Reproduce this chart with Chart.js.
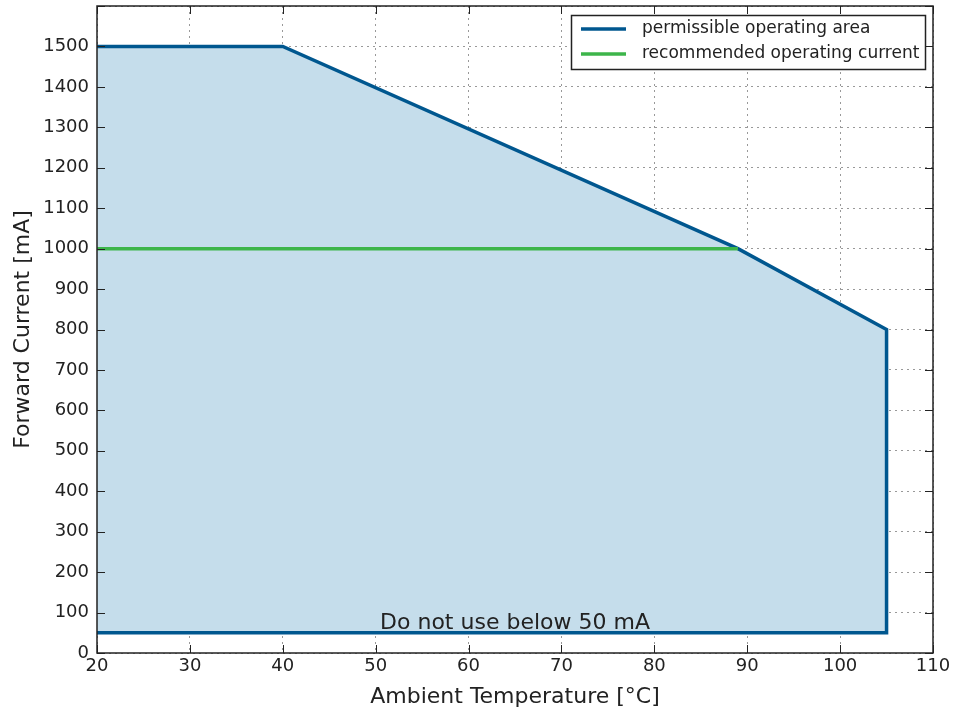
<!DOCTYPE html>
<html>
<head>
<meta charset="utf-8">
<script src="https://cdn.jsdelivr.net/npm/chart.js@4/dist/chart.umd.min.js"></script>
<style>
  html, body { margin: 0; padding: 0; background: #fff; }
  #wrap { width: 954px; height: 713px; }
</style>
</head>
<body>
<div id="wrap"><canvas id="chart" width="954" height="713"></canvas></div>
<script>
// data
const areaTemp    = [20, 40, 89, 105, 105, 20];
const areaCurrent = [1500, 1500, 1000, 800, 50, 50];
const recTemp     = [20, 89];
const recCurrent  = [1000, 1000];
const legendLabels = ["permissible operating area", "recommended operating current"];
const noteText = "Do not use below 50 mA";

const FONT = "'DejaVu Sans', sans-serif";
const BLUE = "#00578f";
const GREEN = "#3db54a";

function toXY(xs, ys) {
    return xs.map((x, i) => ({ x: x, y: ys[i] }));
}

// frame, inward ticks, note and legend
const decorPlugin = {
    id: "decor",
    afterDatasetsDraw(chart) {
        const ctx = chart.ctx;
        const a = chart.chartArea;
        const xs = chart.scales.x, ys = chart.scales.y;
        ctx.save();

        // note text
        ctx.fillStyle = "#222";
        ctx.font = "22px " + FONT;
        ctx.textAlign = "center";
        ctx.textBaseline = "alphabetic";
        ctx.fillText(noteText, xs.getPixelForValue(65), ys.getPixelForValue(50) - 4);

        // inward ticks
        ctx.strokeStyle = "#222";
        ctx.lineWidth = 1;
        for (let v = 20; v <= 110; v += 10) {
            const px = Math.round(xs.getPixelForValue(v)) + 0.5;
            ctx.beginPath();
            ctx.moveTo(px, a.bottom); ctx.lineTo(px, a.bottom - 8);
            ctx.moveTo(px, a.top); ctx.lineTo(px, a.top + 8);
            ctx.stroke();
        }
        for (let v = 0; v <= 1600; v += 100) {
            const py = Math.round(ys.getPixelForValue(v)) + 0.5;
            ctx.beginPath();
            ctx.moveTo(a.left, py); ctx.lineTo(a.left + 8, py);
            ctx.moveTo(a.right, py); ctx.lineTo(a.right - 8, py);
            ctx.stroke();
        }

        // frame
        ctx.lineWidth = 1.5;
        ctx.strokeStyle = "#222";
        ctx.strokeRect(a.left, a.top, a.right - a.left, a.bottom - a.top);

        // legend box
        const lx = 571, ly = 15, lw = 354, lh = 54;
        ctx.fillStyle = "#fff";
        ctx.fillRect(lx, ly, lw, lh);
        ctx.lineWidth = 1.5;
        ctx.strokeStyle = "#222";
        ctx.strokeRect(lx + 0.5, ly + 0.5, lw, lh);
        const colors = [BLUE, GREEN];
        ctx.font = "17px " + FONT;
        ctx.textAlign = "left";
        ctx.textBaseline = "middle";
        legendLabels.forEach((lab, i) => {
            const y = 29 + i * 25;
            ctx.strokeStyle = colors[i];
            ctx.lineWidth = 3.5;
            ctx.beginPath();
            ctx.moveTo(581, y); ctx.lineTo(626, y);
            ctx.stroke();
            ctx.fillStyle = "#222";
            ctx.fillText(lab, 642, y);
        });
        ctx.restore();
    }
};

new Chart(document.getElementById("chart"), {
    type: "scatter",
    data: {
        datasets: [
            {
                label: legendLabels[0],
                data: toXY(areaTemp, areaCurrent),
                showLine: true,
                borderColor: BLUE,
                borderWidth: 3.5,
                backgroundColor: "rgba(197, 221, 235, 1)",
                fill: "shape",
                pointRadius: 0,
                tension: 0,
                order: 2
            },
            {
                label: legendLabels[1],
                data: toXY(recTemp, recCurrent),
                showLine: true,
                borderColor: GREEN,
                borderWidth: 3.5,
                pointRadius: 0,
                fill: false,
                order: 1
            }
        ]
    },
    options: {
        responsive: false,
        animation: false,
        layout: { padding: { top: 6, right: 21, left: 0, bottom: 0 } },
        plugins: {
            legend: { display: false },
            tooltip: { enabled: false }
        },
        scales: {
            x: {
                type: "linear",
                min: 20, max: 110,
                afterFit: s => { s.height = 60; s.paddingLeft = 0; s.paddingRight = 0; },
                ticks: {
                    stepSize: 10,
                    color: "#222",
                    font: { family: FONT, size: 18 },
                    padding: 3,
                    maxRotation: 0
                },
                grid: {
                    color: "#999",
                    lineWidth: 1,
                    drawTicks: false
                },
                border: { display: false, dash: [2, 4] },
                title: {
                    display: true,
                    text: "Ambient Temperature [°C]",
                    color: "#222",
                    font: { family: FONT, size: 22 },
                    padding: { top: 0, bottom: 3 }
                }
            },
            y: {
                type: "linear",
                min: 0, max: 1600,
                afterFit: s => { s.width = 97; s.paddingTop = 0; s.paddingBottom = 0; },
                ticks: {
                    stepSize: 100,
                    color: "#222",
                    font: { family: FONT, size: 18 },
                    padding: 8,
                    callback: v => (v >= 1600 ? "" : v)
                },
                grid: {
                    color: "#999",
                    lineWidth: 1,
                    drawTicks: false
                },
                border: { display: false, dash: [2, 4] },
                title: {
                    display: true,
                    text: "Forward Current [mA]",
                    color: "#222",
                    font: { family: FONT, size: 22 },
                    padding: { top: 10, bottom: 0 }
                }
            }
        }
    },
    plugins: [decorPlugin]
});
</script>
</body>
</html>
